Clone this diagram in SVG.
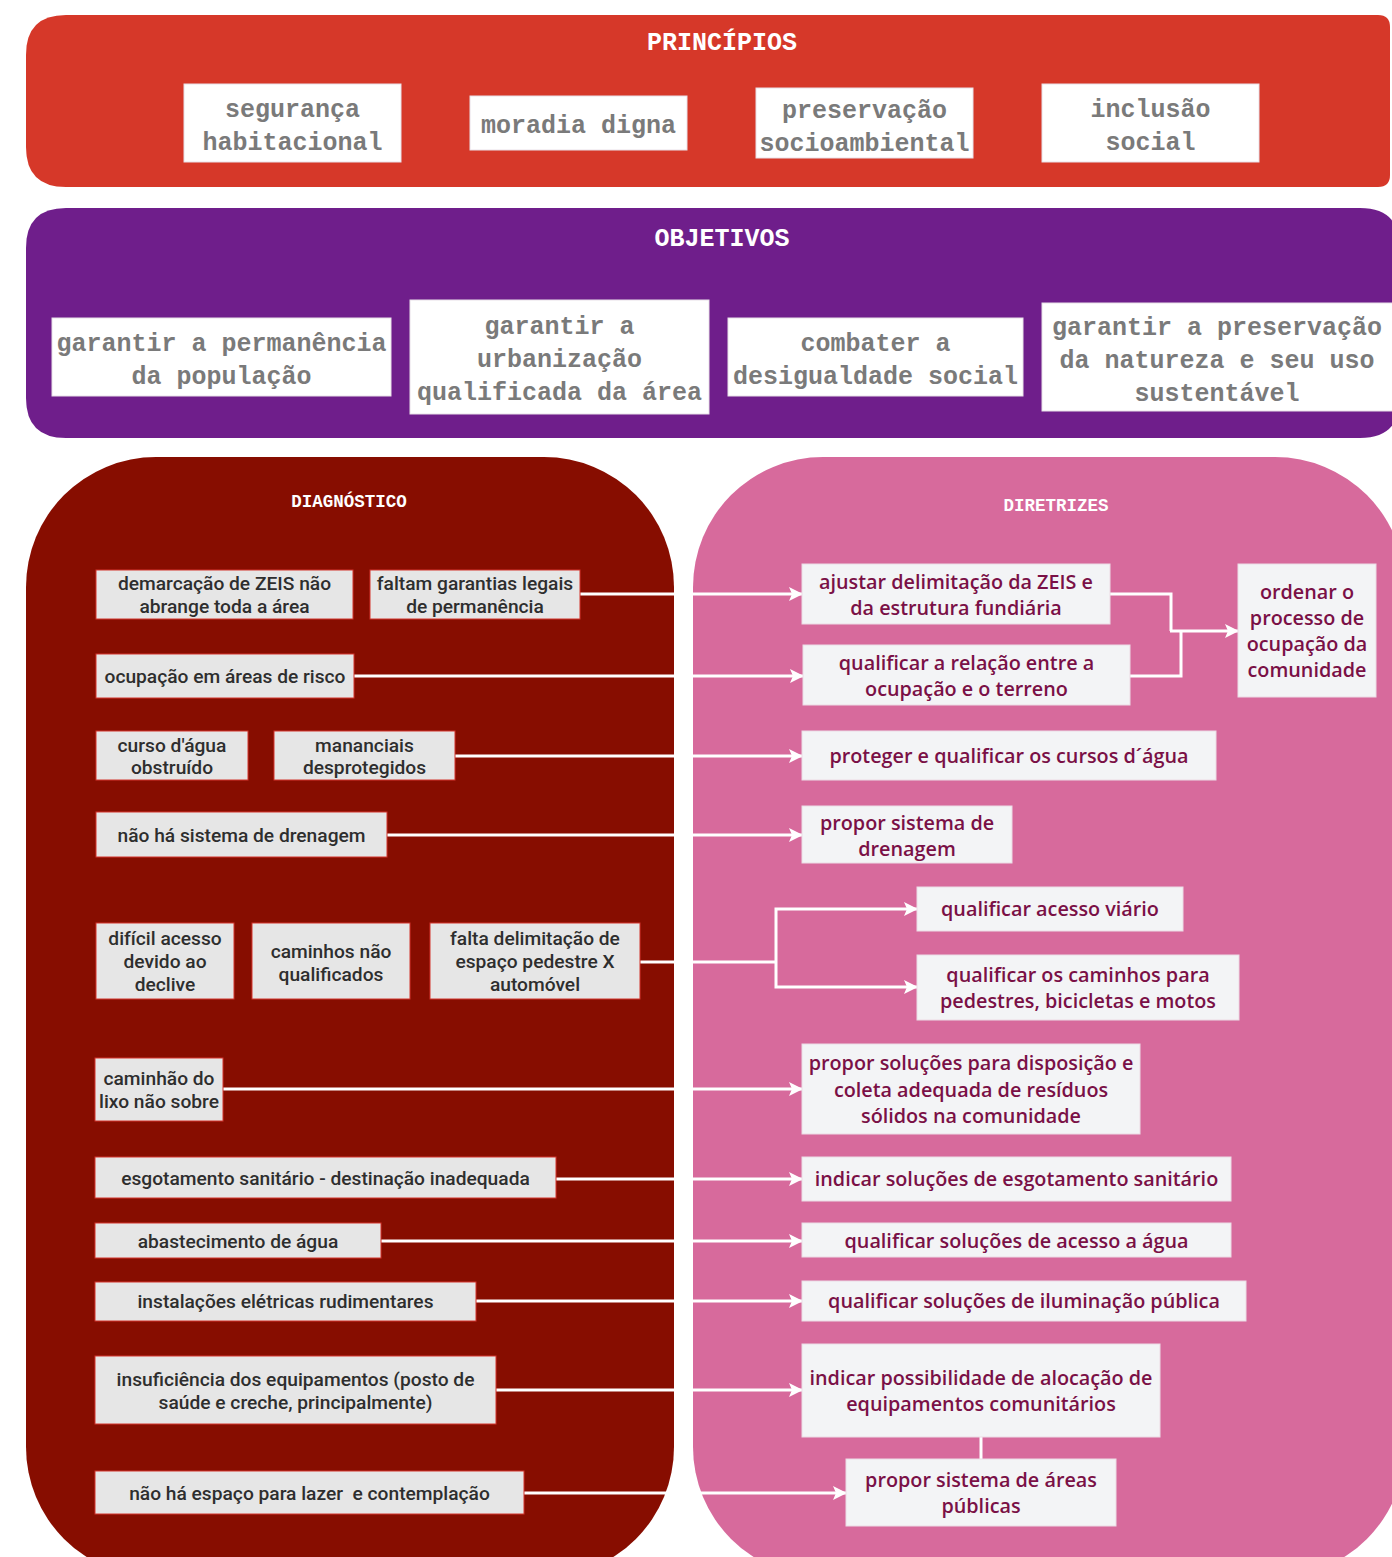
<svg xmlns="http://www.w3.org/2000/svg" width="1392" height="1557" viewBox="0 0 1392 1557">
<defs>
<marker id="ah" markerUnits="userSpaceOnUse" markerWidth="14" markerHeight="16" refX="13" refY="8" orient="auto">
<path d="M0,1 L14,8 L0,15 L3,8 z" fill="#ffffff"/>
</marker>
<style>
.title{font-family:"Liberation Mono","DejaVu Sans Mono",monospace;font-weight:bold;fill:#ffffff;text-anchor:middle}
.mono{font-family:"Liberation Mono","DejaVu Sans Mono",monospace;font-weight:bold;font-size:25px;fill:#7a7a7a;text-anchor:middle}
.wbox{fill:#ffffff;stroke:#e8e0e8;stroke-width:1}
.lbox{fill:#e6e6e6;stroke:#d3342c;stroke-width:1}
.ltxt{font-family:Roboto,"Liberation Sans",sans-serif;font-weight:500;font-size:19.2px;fill:#2e2e2e;text-anchor:middle}
.rbox{fill:#f3f4f6;stroke:#ecdbe5;stroke-width:1}
.rtxt{font-family:"Open Sans","Liberation Sans",sans-serif;font-weight:600;font-size:19.8px;fill:#7a1046;text-anchor:middle}
.con{fill:none;stroke:#ffffff;stroke-width:3}
</style>
</defs>
<rect width="1392" height="1557" fill="#ffffff"/>

<g id="principios">
<path d="M66,15 H1378 Q1390,15 1390,27 V175 Q1390,187 1378,187 H66 Q26,187 26,147 V55 Q26,15 66,15 z" fill="#d63829"/>
<text class="title" x="722" y="50" font-size="25">PRINCÍPIOS</text>
</g>
<g id="p1"><rect class="wbox" x="184" y="84" width="217" height="78"/><text class="mono" x="292.5" y="117">segurança</text><text class="mono" x="292.5" y="150">habitacional</text></g>
<g id="p2"><rect class="wbox" x="470" y="96" width="217" height="54"/><text class="mono" x="578.5" y="133">moradia digna</text></g>
<g id="p3"><rect class="wbox" x="756" y="88" width="217" height="70"/><text class="mono" x="864.5" y="118">preservação</text><text class="mono" x="864.5" y="151">socioambiental</text></g>
<g id="p4"><rect class="wbox" x="1042" y="84" width="217" height="78"/><text class="mono" x="1150.5" y="117">inclusão</text><text class="mono" x="1150.5" y="150">social</text></g>

<g id="objetivos">
<path d="M66,208 H1360 Q1400,208 1400,248 V398 Q1400,438 1360,438 H66 Q26,438 26,398 V248 Q26,208 66,208 z" fill="#6f1e8b"/>
<text class="title" x="722" y="246" font-size="25">OBJETIVOS</text>
</g>
<g id="o1"><rect class="wbox" x="52" y="318" width="339" height="78"/><text class="mono" x="221.5" y="351">garantir a permanência</text><text class="mono" x="221.5" y="384">da população</text></g>
<g id="o2"><rect class="wbox" x="410" y="300" width="299" height="114"/><text class="mono" x="559.5" y="334">garantir a</text><text class="mono" x="559.5" y="367">urbanização</text><text class="mono" x="559.5" y="400">qualificada da área</text></g>
<g id="o3"><rect class="wbox" x="728" y="318" width="295" height="78"/><text class="mono" x="875.5" y="351">combater a</text><text class="mono" x="875.5" y="384">desigualdade social</text></g>
<g id="o4"><rect class="wbox" x="1042" y="303" width="352" height="108"/><text class="mono" x="1217" y="335">garantir a preservação</text><text class="mono" x="1217" y="368">da natureza e seu uso</text><text class="mono" x="1217" y="401">sustentável</text></g>

<g id="diagnostico">
<rect x="26" y="457" width="648" height="1120" rx="130" ry="130" fill="#870d00"/>
<text class="title" x="349" y="507" font-size="17.5">DIAGNÓSTICO</text>
</g>
<g id="diretrizes">
<rect x="693" y="457" width="712" height="1120" rx="130" ry="130" fill="#d76a9c"/>
<text class="title" x="1056" y="511" font-size="17.5">DIRETRIZES</text>
</g>

<g id="connectors">
<line class="con" x1="580" y1="594" x2="802" y2="594" marker-end="url(#ah)"/>
<line class="con" x1="354" y1="676" x2="803" y2="676" marker-end="url(#ah)"/>
<line class="con" x1="455" y1="756" x2="802" y2="756" marker-end="url(#ah)"/>
<line class="con" x1="387" y1="835" x2="802" y2="835" marker-end="url(#ah)"/>
<polyline class="con" points="640,962 776,962"/>
<polyline class="con" points="776,962 776,909 917,909" marker-end="url(#ah)"/>
<polyline class="con" points="776,962 776,987 917,987" marker-end="url(#ah)"/>
<line class="con" x1="223" y1="1089" x2="802" y2="1089" marker-end="url(#ah)"/>
<line class="con" x1="556" y1="1179" x2="802" y2="1179" marker-end="url(#ah)"/>
<line class="con" x1="381" y1="1241" x2="802" y2="1241" marker-end="url(#ah)"/>
<line class="con" x1="476" y1="1301" x2="802" y2="1301" marker-end="url(#ah)"/>
<line class="con" x1="496" y1="1390" x2="802" y2="1390" marker-end="url(#ah)"/>
<line class="con" x1="524" y1="1493" x2="846" y2="1493" marker-end="url(#ah)"/>
<polyline class="con" points="1110,594 1171,594 1171,631"/>
<polyline class="con" points="1130,676 1181,676 1181,631"/>
<polyline class="con" points="1170,631 1238,631" marker-end="url(#ah)"/>
<line class="con" x1="981" y1="1437" x2="981" y2="1459"/>
</g>

<g id="l1"><rect class="lbox" x="96" y="570" width="257" height="49"/><text class="ltxt" x="224.5" y="589.5">demarcação de ZEIS não</text><text class="ltxt" x="224.5" y="612.5">abrange toda a área</text></g>
<g id="l2"><rect class="lbox" x="370" y="570" width="210" height="49"/><text class="ltxt" x="475" y="589.5">faltam garantias legais</text><text class="ltxt" x="475" y="612.5">de permanência</text></g>
<g id="l3"><rect class="lbox" x="96" y="654" width="258" height="44"/><text class="ltxt" x="225" y="682.5">ocupação em áreas de risco</text></g>
<g id="l4"><rect class="lbox" x="96" y="731" width="152" height="49"/><text class="ltxt" x="172" y="751.5">curso d'água</text><text class="ltxt" x="172" y="773.5">obstruído</text></g>
<g id="l5"><rect class="lbox" x="274" y="731" width="181" height="49"/><text class="ltxt" x="364.5" y="751.5">mananciais</text><text class="ltxt" x="364.5" y="773.5">desprotegidos</text></g>
<g id="l6"><rect class="lbox" x="96" y="812" width="291" height="45"/><text class="ltxt" x="241.5" y="841.5">não há sistema de drenagem</text></g>
<g id="l7"><rect class="lbox" x="96" y="923" width="138" height="76"/><text class="ltxt" x="165" y="944.5">difícil acesso</text><text class="ltxt" x="165" y="967.5">devido ao</text><text class="ltxt" x="165" y="990.5">declive</text></g>
<g id="l8"><rect class="lbox" x="252" y="923" width="158" height="76"/><text class="ltxt" x="331" y="957.5">caminhos não</text><text class="ltxt" x="331" y="980.5">qualificados</text></g>
<g id="l9"><rect class="lbox" x="430" y="923" width="210" height="76"/><text class="ltxt" x="535" y="944.5">falta delimitação de</text><text class="ltxt" x="535" y="967.5">espaço pedestre X</text><text class="ltxt" x="535" y="990.5">automóvel</text></g>
<g id="l10"><rect class="lbox" x="95" y="1058" width="128" height="63"/><text class="ltxt" x="159" y="1084.5">caminhão do</text><text class="ltxt" x="159" y="1107.5">lixo não sobre</text></g>
<g id="l11"><rect class="lbox" x="95" y="1157" width="461" height="41"/><text class="ltxt" x="325.5" y="1184.5">esgotamento sanitário - destinação inadequada</text></g>
<g id="l12"><rect class="lbox" x="95" y="1223" width="286" height="35"/><text class="ltxt" x="238" y="1247.5">abastecimento de água</text></g>
<g id="l13"><rect class="lbox" x="95" y="1282" width="381" height="39"/><text class="ltxt" x="285.5" y="1307.5">instalações elétricas rudimentares</text></g>
<g id="l14"><rect class="lbox" x="95" y="1356" width="401" height="68"/><text class="ltxt" x="295.5" y="1385.5">insuficiência dos equipamentos (posto de</text><text class="ltxt" x="295.5" y="1408.5">saúde e creche, principalmente)</text></g>
<g id="l15"><rect class="lbox" x="95" y="1471" width="429" height="43"/><text class="ltxt" x="309.5" y="1499.5" xml:space="preserve">não há espaço para lazer  e contemplação</text></g>

<g id="r1"><rect class="rbox" x="802" y="564" width="308" height="60"/><text class="rtxt" x="956" y="588.5">ajustar delimitação da ZEIS e</text><text class="rtxt" x="956" y="614.5">da estrutura fundiária</text></g>
<g id="r2"><rect class="rbox" x="803" y="645" width="327" height="60"/><text class="rtxt" x="966.5" y="669.5">qualificar a relação entre a</text><text class="rtxt" x="966.5" y="695.5">ocupação e o terreno</text></g>
<g id="r3"><rect class="rbox" x="1238" y="564" width="138" height="133"/><text class="rtxt" x="1307" y="598.5">ordenar o</text><text class="rtxt" x="1307" y="624.5">processo de</text><text class="rtxt" x="1307" y="650.5">ocupação da</text><text class="rtxt" x="1307" y="676.5">comunidade</text></g>
<g id="r4"><rect class="rbox" x="802" y="731" width="414" height="49"/><text class="rtxt" x="1009" y="762.5">proteger e qualificar os cursos d´água</text></g>
<g id="r5"><rect class="rbox" x="802" y="806" width="210" height="57"/><text class="rtxt" x="907" y="829.5">propor sistema de</text><text class="rtxt" x="907" y="855.5">drenagem</text></g>
<g id="r6"><rect class="rbox" x="917" y="887" width="266" height="44"/><text class="rtxt" x="1050" y="915.5">qualificar acesso viário</text></g>
<g id="r7"><rect class="rbox" x="917" y="955" width="322" height="65"/><text class="rtxt" x="1078" y="981.5">qualificar os caminhos para</text><text class="rtxt" x="1078" y="1007.5">pedestres, bicicletas e motos</text></g>
<g id="r8"><rect class="rbox" x="802" y="1044" width="338" height="90"/><text class="rtxt" x="971" y="1069.5">propor soluções para disposição e</text><text class="rtxt" x="971" y="1096.5">coleta adequada de resíduos</text><text class="rtxt" x="971" y="1122.5">sólidos na comunidade</text></g>
<g id="r9"><rect class="rbox" x="802" y="1157" width="429" height="44"/><text class="rtxt" x="1016.5" y="1185.5">indicar soluções de esgotamento sanitário</text></g>
<g id="r10"><rect class="rbox" x="802" y="1223" width="429" height="34"/><text class="rtxt" x="1016.5" y="1247.5">qualificar soluções de acesso a água</text></g>
<g id="r11"><rect class="rbox" x="802" y="1281" width="444" height="40"/><text class="rtxt" x="1024" y="1307.5">qualificar soluções de iluminação pública</text></g>
<g id="r12"><rect class="rbox" x="802" y="1344" width="358" height="93"/><text class="rtxt" x="981" y="1384.5">indicar possibilidade de alocação de</text><text class="rtxt" x="981" y="1410.5">equipamentos comunitários</text></g>
<g id="r13"><rect class="rbox" x="846" y="1459" width="270" height="67"/><text class="rtxt" x="981" y="1486.5">propor sistema de áreas</text><text class="rtxt" x="981" y="1512.5">públicas</text></g>
</svg>
